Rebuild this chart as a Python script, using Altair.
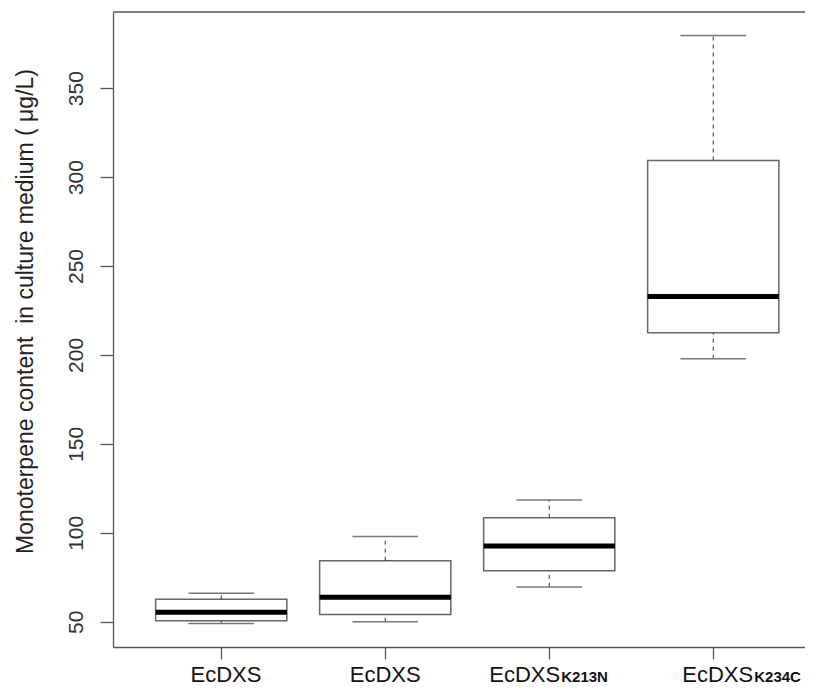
import altair as alt
import pandas as pd

# ---- data ----
positions = [1, 2, 3, 4]
base_names = ["EcDXS", "EcDXS", "EcDXS", "EcDXS"]
suffixes = ["", "", "K213N", "K234C"]
mins = [49.0, 50.0, 69.6, 197.9]
q1s = [50.6, 54.1, 78.6, 212.5]
meds = [55.4, 63.8, 92.6, 232.8]
q3s = [62.6, 84.3, 108.5, 309.3]
maxs = [66.0, 97.9, 118.4, 379.6]
y_ticks = [50, 100, 150, 200, 250, 300, 350]

df = pd.DataFrame(dict(pos=positions, name=base_names, suffix=suffixes,
                       lo=mins, q1=q1s, med=meds, q3=q3s, hi=maxs))

W, H = 692, 635
FONT = "Liberation Sans"
xs = alt.Scale(domain=[0.34, 0.34 + 692 / 164], nice=False, zero=False)
ys = alt.Scale(domain=[35.8, 392.8], nice=False, zero=False)

x_axis = alt.Axis(values=positions, labels=False, tickSize=12, grid=False, title=None,
                  domainColor="#555", domainWidth=1.3, tickColor="#555", tickWidth=1.3)
y_axis = alt.Axis(values=y_ticks, grid=False, tickSize=13, tickColor="#555", tickWidth=1.3,
                  domainColor="#555", domainWidth=1.3,
                  labelAngle=270, labelAlign="center", labelBaseline="alphabetic",
                  labelPadding=18, labelFontSize=21, labelFont=FONT, labelColor="#333",
                  labelOverlap=False,
                  title="Monoterpene content\u00a0 in culture medium ( \u03bcg/L)",
                  titleFont=FONT, titleFontSize=23, titleFontWeight="normal", titleColor="#222",
                  titleAngle=270, titleX=-81, titleY=299, titleAlign="center",
                  titleBaseline="alphabetic")


def X(f):
    return alt.X(f"{f}:Q", scale=xs, axis=x_axis)


def Y(f):
    return alt.Y(f"{f}:Q", scale=ys, axis=y_axis)


base = alt.Chart(df).transform_calculate(
    bl="datum.pos - 0.4", br="datum.pos + 0.4",
    cl="datum.pos - 0.2", cr="datum.pos + 0.2")

boxes = base.mark_rect(fill="white", stroke="#666", strokeWidth=1.5).encode(
    x=X("bl"), x2="br:Q", y=Y("q1"), y2="q3:Q")
medians = base.mark_rule(color="black", strokeWidth=5).encode(
    x=X("bl"), x2="br:Q", y=Y("med"))
w_up = base.mark_rule(color="#333", strokeWidth=1, strokeDash=[4, 4]).encode(
    x=X("pos"), y=Y("q3"), y2="hi:Q")
w_lo = base.mark_rule(color="#333", strokeWidth=1, strokeDash=[4, 4]).encode(
    x=X("pos"), y=Y("lo"), y2="q1:Q")
cap_up = base.mark_rule(color="#777", strokeWidth=1.5).encode(
    x=X("cl"), x2="cr:Q", y=Y("hi"))
cap_lo = base.mark_rule(color="#777", strokeWidth=1.5).encode(
    x=X("cl"), x2="cr:Q", y=Y("lo"))

top_line = alt.Chart(pd.DataFrame({"a": [0]})).mark_rule(color="#555", strokeWidth=1.3).encode(
    x=alt.value(0), x2=alt.value(W), y=alt.value(0))

# category labels (main text + bold subscript-like suffix)
label_dx = [-30.7, -35.5, -60.0, -31.0]
label_layers = []
for p, dx in zip(positions, label_dx):
    sub = alt.Chart(df).transform_filter(f"datum.pos == {p}")
    label_layers.append(sub.mark_text(align="left", baseline="alphabetic", dx=dx,
                                      fontSize=22, font=FONT, color="#111").encode(
        x=X("pos"), y=alt.value(670), text="name:N"))
    label_layers.append(sub.mark_text(align="left", baseline="alphabetic", dx=dx + 72,
                                      fontSize=15, fontWeight="bold", font=FONT,
                                      color="#111").encode(
        x=X("pos"), y=alt.value(670), text="suffix:N"))

chart = alt.layer(boxes, w_up, w_lo, cap_up, cap_lo, medians, top_line, *label_layers).properties(
    width=W, height=H,
    autosize=alt.AutoSizeParams(type="none"),
    padding={"left": 105, "top": 4, "right": 0, "bottom": 40},
    background="white",
).configure_view(stroke=None)

chart.save("out.html", embed_options={"renderer": "svg", "actions": False})
